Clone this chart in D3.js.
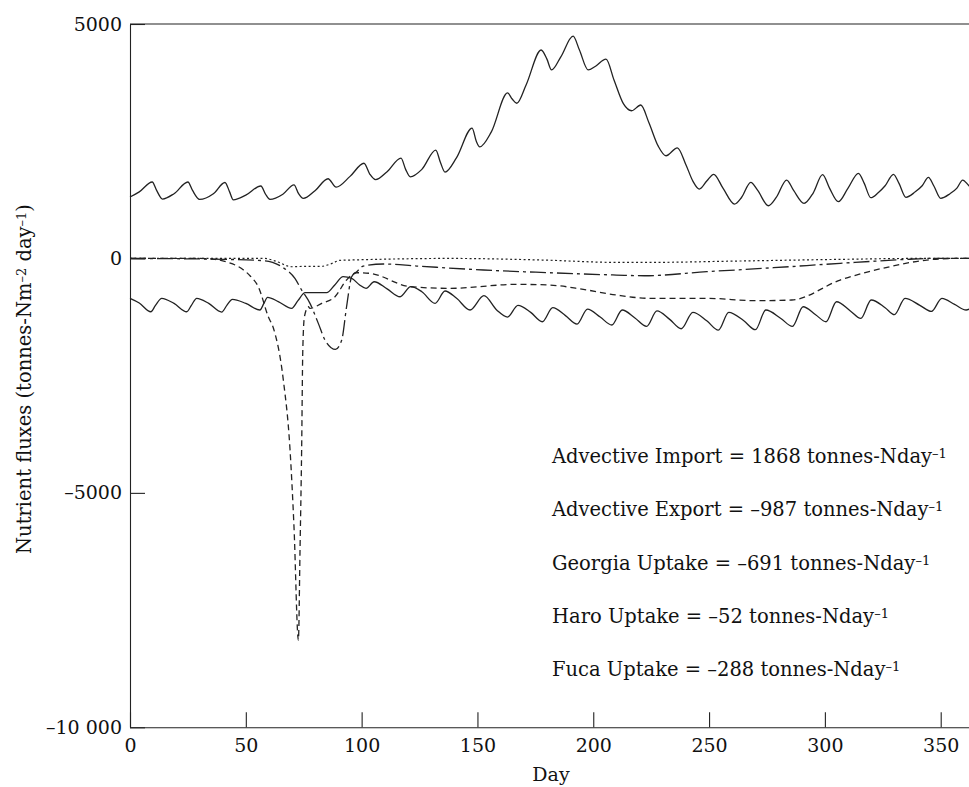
<!DOCTYPE html>
<html>
<head>
<meta charset="utf-8">
<script src="https://cdn.jsdelivr.net/npm/d3@7"></script>
<style>
  body { margin: 0; background: #fff; }
  svg { display: block; font-family: "DejaVu Serif", "Liberation Serif", serif; }
</style>
</head>
<body>
<svg id="chart" width="969" height="787"></svg>
<script>
// Daily nutrient fluxes over the year, [day, tonnes-N per day]
const advectiveImport = [
  [0,1310],[4,1420],[9.6,1630],[11.5,1450],[14,1267],[19,1380],[25,1630],[27,1450],[30,1260],
  [36,1380],[41,1620],[43,1420],[44.6,1250],[50,1350],[56.5,1545],[58.5,1370],[60.4,1260],
  [66,1370],[70.8,1570],[72.8,1380],[74.8,1280],[80,1450],[85.5,1700],[89,1520],[95,1750],
  [101,2030],[103.5,1800],[106,1680],[111,1850],[117,2140],[119,1900],[121,1740],[126,1900],
  [132,2310],[134,2050],[136,1840],[141,2150],[147.7,2780],[149.5,2500],[151,2380],[156,2700],
  [163,3530],[165,3400],[167,3310],[171,3700],[177.5,4445],[180,4250],[182,4020],[186,4300],
  [191.3,4740],[194,4450],[197.8,4020],[201,4100],[205.5,4250],[209,3800],[213,3300],
  [216.6,3150],[220.5,3272],[224,2900],[228,2400],[231.4,2190],[236.3,2360],[240,2000],
  [243,1650],[245.8,1480],[249,1650],[252,1794],[256,1500],[261,1160],[264,1300],[268,1623],
  [271,1450],[275.6,1124],[279,1300],[283.5,1672],[286.5,1450],[291,1175],[295,1400],
  [299,1786],[302,1500],[305.8,1210],[310,1500],[314.5,1815],[317,1600],[319.8,1295],
  [323,1400],[326,1550],[329.6,1794],[332,1600],[335,1303],[339,1420],[342,1550],[344.7,1730],
  [347,1550],[350,1282],[354,1380],[357,1500],[359.5,1672],[362,1560],[365,1420]
];

const advectiveExport = [
  [0,-851],[4,-950],[9,-1137],[11,-1000],[13.7,-851],[19,-960],[24.5,-1137],[26.5,-1000],
  [28.8,-851],[34,-960],[39.6,-1143],[41.8,-1000],[44.2,-873],[50,-960],[56.1,-1100],
  [57.8,-960],[59.4,-830],[64,-920],[69.8,-1065],[72.5,-900],[75.6,-731],[80,-731],
  [84.9,-731],[88.5,-560],[92,-390],[95.7,-425],[99,-560],[101.9,-638],[105.4,-497],
  [111,-650],[116.6,-817],[121.2,-603],[126,-710],[131.7,-958],[136,-695],[141,-851],
  [146.8,-1100],[152.8,-795],[158.3,-1100],[163,-1250],[167.5,-1000],[173,-1150],[178,-1350],
  [182.5,-1050],[188,-1220],[193,-1400],[197.5,-1080],[203,-1250],[208,-1420],[212.5,-1100],
  [218,-1270],[223,-1450],[227.5,-1120],[233,-1300],[238,-1500],[243,-1150],[249,-1330],
  [254,-1530],[258.5,-1150],[265,-1330],[270,-1520],[274.5,-1100],[281,-1280],[286,-1450],
  [290.6,-1030],[296,-1200],[300.5,-1350],[305,-924],[311,-1120],[315.5,-1280],[320,-887],
  [326,-1050],[330,-1200],[334.6,-851],[341,-1000],[346,-1130],[350.5,-851],[356,-980],
  [361,-1100],[365,-1000]
];

const georgiaUptake = [
  [0,0],[30,0],[36.7,-20],[42,-80],[48,-211],[52,-380],[55.4,-604],[59.7,-1244],[62,-1500],
  [66.2,-2594],[69.1,-4087],[70.8,-5723],[72.7,-8140],[73.4,-6220],[74.1,-4087],[74.6,-1954],
  [75.3,-1244],[77,-1030],[77.7,-1065],[82.8,-958],[88.5,-817],[93.5,-461],[97.9,-305],
  [103.6,-318],[121,-603],[138,-638],[167,-553],[181,-567],[195.7,-660],[210,-781],
  [224.5,-851],[249,-851],[270.6,-902],[285.7,-887],[306.6,-461],[328,-177],[344,-34],
  [357,0],[365,0]
];

const haroUptake = [
  [0,0],[58,0],[63,-60],[69.8,-177],[75,-170],[82.8,-167],[87,-110],[90.7,-40],[95,-34],
  [138,0],[178,-34],[210,-84],[224.5,-84],[263,-55],[306.6,-20],[340,0],[365,0]
];

const fucaUptake = [
  [0,0],[41,-20],[58.3,-50],[65.5,-177],[71.2,-425],[74.1,-674],[77.7,-958],[81.3,-1385],
  [84.2,-1741],[88.7,-1940],[91.4,-1741],[93.5,-1030],[95.7,-390],[97.9,-283],[100.7,-162],
  [109.4,-119],[123.8,-162],[152.6,-247],[181.3,-305],[210,-354],[222,-369],[249,-283],
  [277.8,-198],[306.6,-105],[335.4,-20],[345,0],[365,0]
];

const xTicks = [0, 50, 100, 150, 200, 250, 300, 350];
const yTicks = [5000, 0, -5000, -10000];
const yTickLabels = ["5000", "0", "–5000", "–10 000"];

const legendLines = [
  "Advective Import = 1868 tonnes-Nday",
  "Advective Export = –987 tonnes-Nday",
  "Georgia Uptake = –691 tonnes-Nday",
  "Haro Uptake = –52 tonnes-Nday",
  "Fuca Uptake = –288 tonnes-Nday"
];

const svg = d3.select("#chart");
const ink = "#222";

const x = d3.scaleLinear().domain([0, 350]).range([130, 940.7]);
const y = d3.scaleLinear().domain([-10000, 5000]).range([727.3, 24]);

// Axes with inward ticks
const xAxis = svg.append("g")
  .attr("transform", `translate(0,${y(-10000)})`)
  .call(d3.axisBottom(x).tickValues(xTicks).tickSizeInner(-15).tickSizeOuter(0).tickPadding(11)
    .tickFormat(d3.format("d")));
xAxis.select(".domain").attr("d", `M${x(0)},0.5H969`);

const yAxis = svg.append("g")
  .attr("transform", `translate(${x(0)},0)`)
  .call(d3.axisLeft(y).tickValues(yTicks).tickSizeInner(-15).tickSizeOuter(0).tickPadding(8)
    .tickFormat((d, i) => yTickLabels[i]));

[xAxis, yAxis].forEach(g => {
  g.selectAll("path, line").attr("stroke", ink).attr("stroke-width", 1.1);
  g.selectAll("text").attr("fill", "#111").style("font-size", "19px")
    .style("font-family", "DejaVu Serif, serif");
});

// top frame line
svg.append("line")
  .attr("x1", x(0)).attr("x2", 969)
  .attr("y1", y(5000)).attr("y2", y(5000))
  .attr("stroke", ink).attr("stroke-width", 1.1);

// Series
const line = d3.line()
  .x(d => x(d[0]))
  .y(d => y(d[1]))
  .curve(d3.curveMonotoneX);

const series = [
  { data: advectiveImport, dash: null, w: 1.3 },
  { data: advectiveExport, dash: null, w: 1.3 },
  { data: georgiaUptake, dash: "6,4", w: 1.3 },
  { data: haroUptake, dash: "2,2.5", w: 1.2 },
  { data: fucaUptake, dash: "16,4,3,4", w: 1.3 }
];

svg.append("g").selectAll("path")
  .data(series)
  .join("path")
  .attr("d", s => line(s.data))
  .attr("fill", "none")
  .attr("stroke", ink)
  .attr("stroke-width", s => s.w)
  .attr("stroke-dasharray", s => s.dash);

// Annotations with the annual means
const notes = svg.append("g").attr("fill", "#111").style("font-size", "19.5px");
legendLines.forEach((t, i) => {
  const txt = notes.append("text").attr("x", 552).attr("y", 463 + i * 53.3);
  txt.append("tspan").text(t);
  txt.append("tspan").attr("baseline-shift", "42%").style("font-size", "13px").text("–1");
});

// Axis titles
svg.append("text")
  .attr("x", 551).attr("y", 781)
  .attr("text-anchor", "middle")
  .attr("fill", "#111")
  .style("font-size", "19px")
  .text("Day");

const yl = svg.append("text")
  .attr("transform", "translate(31,379) rotate(-90)")
  .attr("text-anchor", "middle")
  .attr("fill", "#111")
  .style("font-size", "19.5px");
yl.append("tspan").text("Nutrient fluxes (tonnes-Nm");
yl.append("tspan").attr("baseline-shift", "42%").style("font-size", "13px").text("–2");
yl.append("tspan").text(" day");
yl.append("tspan").attr("baseline-shift", "42%").style("font-size", "13px").text("–1");
yl.append("tspan").text(")");
</script>
</body>
</html>
